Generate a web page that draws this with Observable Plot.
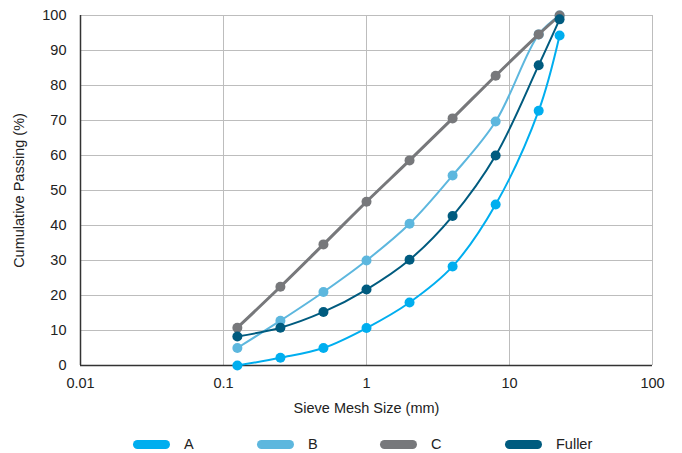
<!DOCTYPE html>
<html><head><meta charset="utf-8">
<script src="https://cdn.jsdelivr.net/npm/d3@7"></script>
<script src="https://cdn.jsdelivr.net/npm/@observablehq/plot@0.6"></script>
<style>
body{margin:0;background:#fff;font-family:"Liberation Sans",Arial,sans-serif;}
#wrap{position:relative;width:682px;height:453px;}
#legend{position:absolute;left:0;top:436px;width:682px;height:20px;}
.item{position:absolute;top:0;display:flex;align-items:center;font-size:14.5px;color:#222;}
.sw{width:37px;height:9px;border-radius:5px;margin-right:14px;}
</style></head>
<body><div id="wrap"><div id="chart"></div><div id="legend"></div></div>
<script>
const sizes = [0.125, 0.25, 0.5, 1, 2, 4, 8, 16, 22.4];
const seriesNames = ["A", "B", "C", "Fuller"];
const valuesA = [0, 2.2, 5, 10.7, 18, 28.3, 46, 72.8, 94.3];
const valuesB = [5, 12.8, 21, 30, 40.5, 54.3, 69.7, 94.6, 100];
const valuesC = [10.8, 22.5, 34.6, 46.8, 58.6, 70.6, 82.8, 94.6, 100];
const valuesFuller = [8.3, 10.8, 15.3, 21.7, 30.2, 42.7, 60, 85.8, 98.9];
const xTicks = [0.01, 0.1, 1, 10, 100];
const yTicks = [0, 10, 20, 30, 40, 50, 60, 70, 80, 90, 100];
const colors = ["#00AEEF", "#5DB7DE", "#77787B", "#005B7F"];
const widths = [2, 2, 3, 2];

const allVals = [valuesA, valuesB, valuesC, valuesFuller];
const data = [];
seriesNames.forEach((s, i) => sizes.forEach((d, j) => data.push({series: s, size: d, pass: allVals[i][j]})));

const marks = [
  Plot.gridX(xTicks.slice(1), {stroke: "#bdbdbd", strokeOpacity: 1, strokeWidth: 1}),
  Plot.gridY(yTicks.slice(1), {stroke: "#bdbdbd", strokeOpacity: 1, strokeWidth: 1}),
  Plot.ruleX([0.01], {stroke: "#333", strokeWidth: 1.5}),
  Plot.ruleY([0], {stroke: "#333", strokeWidth: 1.5}),
  Plot.axisX(xTicks, {tickSize: 0, tickPadding: 12, fontSize: 14.5, tickFormat: d => String(d), label: "Sieve Mesh Size (mm)", labelAnchor: "center", labelOffset: 47, labelArrow: "none", fill: "#222"}),
  Plot.axisY(yTicks, {tickSize: 0, tickPadding: 14, fontSize: 14.5, label: "Cumulative Passing (%)", labelAnchor: "center", labelOffset: 67, labelArrow: "none", fill: "#222"})
];
seriesNames.forEach((s, i) => {
  const sub = data.filter(d => d.series === s);
  marks.push(Plot.line(sub, {x: "size", y: "pass", stroke: colors[i], strokeWidth: widths[i], curve: "catmull-rom"}));
  marks.push(Plot.dot(sub, {x: "size", y: "pass", fill: colors[i], r: 5}));
});

const chart = Plot.plot({
  width: 682, height: 428,
  marginLeft: 80, marginRight: 30, marginTop: 15, marginBottom: 63,
  style: {fontFamily: "Liberation Sans, Arial, sans-serif", fontSize: "14.5px", color: "#222", background: "#fff"},
  x: {type: "log", domain: [0.01, 100]},
  y: {domain: [0, 100]},
  marks
});
document.getElementById("chart").appendChild(chart);

const legendX = [133, 257, 380, 505];
const lg = document.getElementById("legend");
seriesNames.forEach((s, i) => {
  const it = document.createElement("div");
  it.className = "item";
  it.style.left = legendX[i] + "px";
  it.innerHTML = `<span class="sw" style="background:${colors[i]}"></span><span>${s}</span>`;
  lg.appendChild(it);
});
</script></body></html>
